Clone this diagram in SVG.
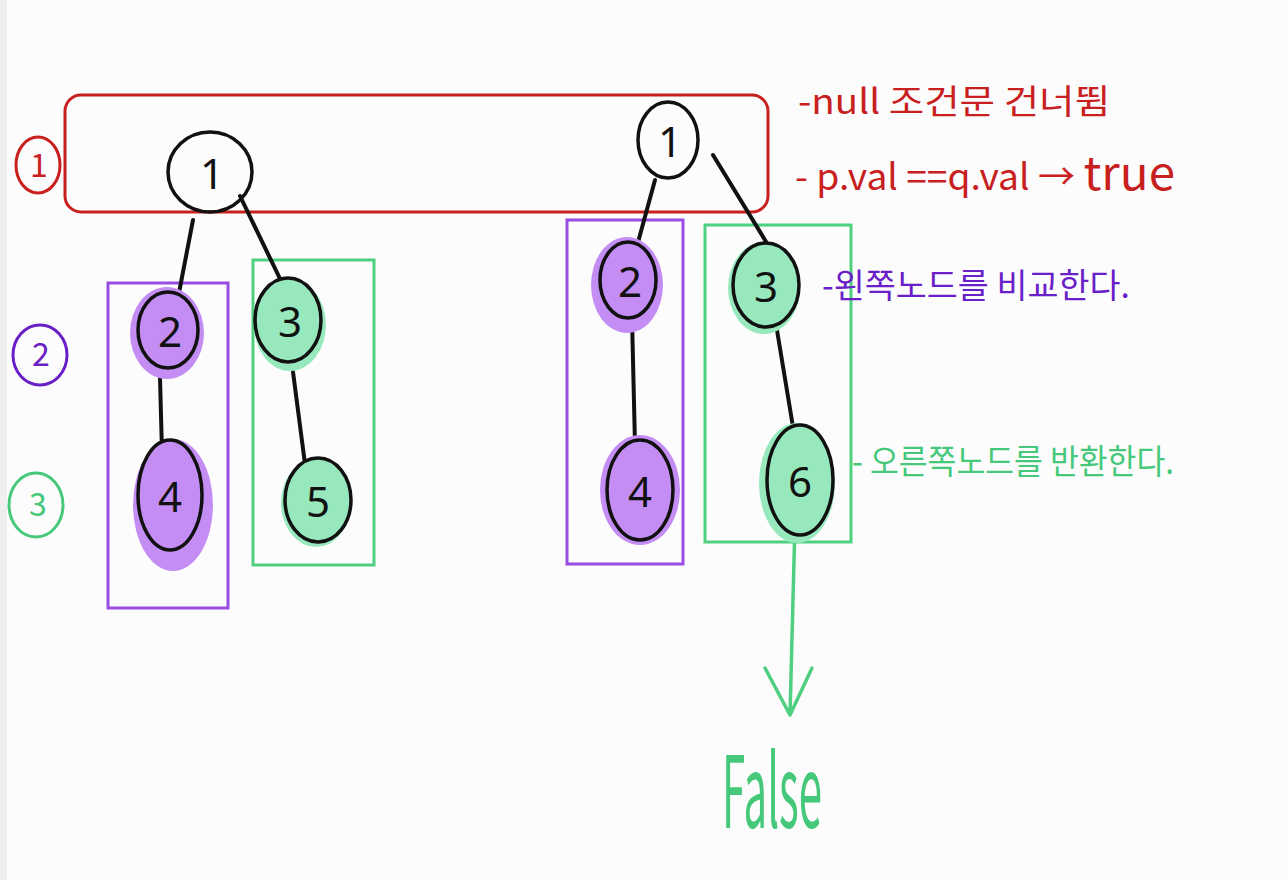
<svg xmlns="http://www.w3.org/2000/svg" width="1288" height="880" viewBox="0 0 1288 880">
<style>
.node{fill:none;stroke:#111;stroke-width:3.5}
.pblob{fill:#c48df4}
.gblob{fill:#97e9bd}
.num{font-family:"Noto Sans","DejaVu Sans",sans-serif;font-size:42px;fill:#111;text-anchor:middle;dominant-baseline:central}
.edge{stroke:#111;stroke-width:4;stroke-linecap:round;fill:none}
.red{fill:#c8201e;font-family:"Noto Sans CJK KR",sans-serif}
.pur{fill:#6a1fc8;font-family:"Noto Sans CJK KR",sans-serif}
.grn{fill:#45c87a;font-family:"Noto Sans CJK KR",sans-serif}
.prect{fill:none;stroke:#9a4de2;stroke-width:3}
.grect{fill:none;stroke:#4fcf80;stroke-width:3}
</style>
<rect width="1288" height="880" fill="#fcfcfc"/>
<rect width="7" height="880" fill="#efefef"/>
<g id="frames">
<rect x="65" y="95" width="703" height="117" rx="16" fill="none" stroke="#c8201e" stroke-width="3"/>
<rect class="prect" x="108" y="283" width="120" height="325"/>
<rect class="grect" x="253" y="260" width="121" height="305"/>
<rect class="prect" x="567" y="220" width="116" height="344"/>
<rect class="grect" x="705" y="225" width="146" height="317"/>
</g>
<g id="connectors">
<path class="edge" d="M193,220 L178,298"/>
<path class="edge" d="M240,196 L284,287"/>
<path class="edge" d="M160,378 L162,452"/>
<path class="edge" d="M293,372 L305,464"/>
<path class="edge" d="M655,180 L634,257"/>
<path class="edge" d="M713,155 L768,245"/>
<path class="edge" d="M632,318 L635,445"/>
<path class="edge" d="M775,318 L793,427"/>
<path d="M795,522 L790,715 M765,668 L790,715 L812,668" fill="none" stroke="#4fcf80" stroke-width="3.5" stroke-linecap="round" stroke-linejoin="round"/>
</g>
<g id="n-l1"><ellipse class="node" cx="210" cy="172" rx="42" ry="40" fill="#fcfcfc"/><text class="num" x="212" y="172">1</text></g>
<g id="n-l2"><ellipse class="pblob" cx="167" cy="333" rx="37" ry="46"/><ellipse class="node" cx="168" cy="330" rx="30" ry="38"/><text class="num" x="170" y="330">2</text></g>
<g id="n-l4"><ellipse class="pblob" cx="173" cy="505" rx="40" ry="66"/><ellipse class="node" cx="170" cy="495" rx="32" ry="55"/><text class="num" x="170" y="495">4</text></g>
<g id="n-l3"><ellipse class="gblob" cx="290" cy="325" rx="36" ry="46"/><ellipse class="node" cx="288" cy="320" rx="33" ry="42"/><text class="num" x="290" y="320">3</text></g>
<g id="n-l5"><ellipse class="gblob" cx="316" cy="503" rx="35" ry="44"/><ellipse class="node" cx="318" cy="500" rx="33" ry="42"/><text class="num" x="318" y="500">5</text></g>
<g id="n-r1"><ellipse class="node" cx="668" cy="140" rx="30" ry="38" fill="#fcfcfc"/><text class="num" x="670" y="140">1</text></g>
<g id="n-r2"><ellipse class="pblob" cx="627" cy="285" rx="36" ry="48"/><ellipse class="node" cx="628" cy="280" rx="28" ry="38"/><text class="num" x="630" y="280">2</text></g>
<g id="n-r4"><ellipse class="pblob" cx="640" cy="490" rx="40" ry="55"/><ellipse class="node" cx="640" cy="490" rx="33" ry="50"/><text class="num" x="640" y="490">4</text></g>
<g id="n-r3"><ellipse class="gblob" cx="764" cy="288" rx="36" ry="46"/><ellipse class="node" cx="766" cy="285" rx="33" ry="42"/><text class="num" x="766" y="285">3</text></g>
<g id="n-r6"><ellipse class="gblob" cx="797" cy="483" rx="38" ry="60"/><ellipse class="node" cx="800" cy="480" rx="33" ry="55"/><text class="num" x="800" y="480">6</text></g>
<g id="labels">
<ellipse cx="38" cy="165" rx="22" ry="28" fill="none" stroke="#c8201e" stroke-width="3"/>
<text class="red" x="39" y="177" font-size="32" text-anchor="middle">1</text>
<ellipse cx="40" cy="355" rx="27" ry="30" fill="none" stroke="#6a1fc8" stroke-width="3"/>
<text class="pur" x="41" y="366" font-size="32" text-anchor="middle">2</text>
<ellipse cx="36" cy="505" rx="27" ry="32" fill="none" stroke="#45c87a" stroke-width="3"/>
<text class="grn" x="38" y="516" font-size="32" text-anchor="middle">3</text>
<text class="red" x="798" y="114" font-size="34" textLength="312" lengthAdjust="spacingAndGlyphs">-null 조건문 건너뜀</text>
<text class="red" x="795" y="190" font-size="36" textLength="380" lengthAdjust="spacingAndGlyphs">- p.val ==q.val → <tspan font-size="46">true</tspan></text>
<text class="pur" x="822" y="298" font-size="34" textLength="308" lengthAdjust="spacingAndGlyphs">-왼쪽노드를 비교한다.</text>
<text class="grn" x="852" y="474" font-size="34" textLength="322" lengthAdjust="spacingAndGlyphs">- 오른쪽노드를 반환한다.</text>
<text class="grn" x="722" y="828" font-size="100" textLength="100" lengthAdjust="spacingAndGlyphs">False</text>
</g>
</svg>
